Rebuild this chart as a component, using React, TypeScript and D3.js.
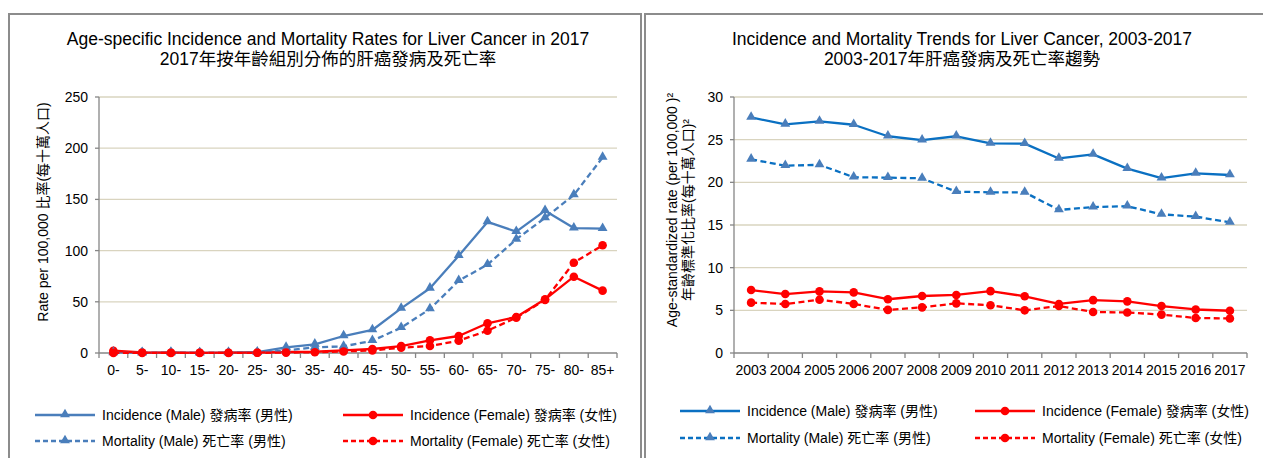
import React from 'react'
import * as d3 from 'd3'

const FONT = "'Liberation Sans', Arial, 'Noto Sans CJK TC', sans-serif"

// left chart: age-specific rates, 2017
const ageGroups = ['0-', '5-', '10-', '15-', '20-', '25-', '30-', '35-', '40-', '45-', '50-', '55-', '60-', '65-', '70-', '75-', '80-', '85+']
const ageIncMale = [0.9, 0.2, 0.6, 0.1, 0.3, 0.8, 5.5, 8.5, 16.6, 22.5, 43.6, 63.2, 95, 128, 118.5, 139, 122, 121.5]
const ageIncFemale = [2.2, 0.5, 0.3, 0.2, 0.3, 0.4, 1, 1.2, 2.6, 3.9, 6.8, 12.4, 16.6, 29, 35.2, 52.4, 74.5, 60.9]
const ageMortMale = [0.2, 0.1, 0.1, 0.1, 0.2, 0.4, 2.5, 5.5, 6.5, 12, 24.7, 43, 70.6, 86.3, 111, 132, 154.3, 191]
const ageMortFemale = [0.1, 0.1, 0.1, 0.1, 0.1, 0.2, 0.4, 0.8, 1.5, 2.5, 5.2, 6.8, 12, 21.8, 34.5, 51.8, 88.2, 105.2]
const ageTicks = [0, 50, 100, 150, 200, 250]

// right chart: age-standardised trends
const years = ['2003', '2004', '2005', '2006', '2007', '2008', '2009', '2010', '2011', '2012', '2013', '2014', '2015', '2016', '2017']
const trendIncMale = [27.6, 26.8, 27.15, 26.75, 25.4, 24.95, 25.4, 24.57, 24.53, 22.8, 23.28, 21.6, 20.5, 21.05, 20.86]
const trendIncFemale = [7.38, 6.91, 7.22, 7.1, 6.3, 6.68, 6.8, 7.25, 6.65, 5.75, 6.2, 6.05, 5.5, 5.1, 4.95]
const trendMortMale = [22.7, 21.95, 22.05, 20.6, 20.55, 20.47, 18.9, 18.83, 18.83, 16.76, 17.1, 17.2, 16.25, 15.98, 15.31]
const trendMortFemale = [5.9, 5.74, 6.25, 5.75, 5.05, 5.35, 5.82, 5.6, 5.0, 5.5, 4.8, 4.75, 4.5, 4.1, 4.05]
const trendTicks = [0, 5, 10, 15, 20, 25, 30]

const legendLabels = [
  'Incidence (Male) 發病率 (男性)',
  'Incidence (Female) 發病率 (女性)',
  'Mortality (Male) 死亡率 (男性)',
  'Mortality (Female) 死亡率 (女性)',
]

type Series = { values: number[]; color: string; markerColor: string; dashed: boolean; marker: 'tri' | 'dot' }

function Marker({ kind, x, y, color }: { kind: string; x: number; y: number; color: string }) {
  if (kind === 'dot') return <circle cx={x} cy={y} r={4.3} fill={color} />
  const p = d3.symbol().type(d3.symbolTriangle).size(42)()
  return <path d={p!} transform={`translate(${x},${y - 0.5})`} fill={color} />
}

function Panel(props: {
  frameX: number
  frameW: number
  titles: string[]
  titleX: number
  left: number
  right: number
  top: number
  bottom: number
  cats: string[]
  ticks: number[]
  yMax: number
  series: Series[]
  yLabels: { x: number; text: string }[]
  yLabelY: number
  legendCols: number[]
  legendRows: number[]
}) {
  const { left, right, top, bottom, cats, series } = props
  const x = d3.scaleBand().domain(cats).range([left, right])
  const y = d3.scaleLinear().domain([0, props.yMax]).range([bottom, top])
  const cx = (i: number) => x(cats[i])! + x.bandwidth() / 2
  const line = d3.line<number>().x((_, i) => cx(i)).y(d => y(d))
  const bounds = cats.map(c => x(c)!).concat([right])

  return (
    <g>
      <rect x={props.frameX} y={14} width={props.frameW} height={480} fill="#fff" stroke="#8c8c8c" strokeWidth={2} />
      {props.titles.map((t, i) => (
        <text key={t} x={props.titleX} y={39 + i * 20} textAnchor="middle" dominantBaseline="central" fontSize={17.5} fill="#000">{t}</text>
      ))}
      {props.ticks.map(t => (
        <g key={t}>
          {t > 0 && <line x1={left} x2={right} y1={y(t)} y2={y(t)} stroke="#d9d4bf" strokeWidth={1.3} />}
          <line x1={left - 4} x2={left} y1={y(t)} y2={y(t)} stroke="#868686" strokeWidth={1.3} />
          <text x={left - 11} y={y(t)} textAnchor="end" dominantBaseline="central" fontSize={14} fill="#000">{t}</text>
        </g>
      ))}
      <line x1={left} x2={left} y1={top} y2={bottom} stroke="#868686" strokeWidth={1.3} />
      <line x1={left} x2={right} y1={bottom} y2={bottom} stroke="#868686" strokeWidth={1.3} />
      {bounds.map((b, i) => (
        <line key={i} x1={b} x2={b} y1={bottom} y2={bottom + 5} stroke="#868686" strokeWidth={1.3} />
      ))}
      {cats.map((c, i) => (
        <text key={c} x={cx(i)} y={bottom + 17} textAnchor="middle" dominantBaseline="central" fontSize={14} fill="#000">{c}</text>
      ))}
      {props.yLabels.map(l => (
        <text key={l.text} transform={`translate(${l.x},${props.yLabelY}) rotate(-90)`} textAnchor="middle" dominantBaseline="central" fontSize={14} fill="#000">{l.text}</text>
      ))}
      {series.map((s, k) => (
        <g key={k}>
          <path d={line(s.values)!} fill="none" stroke={s.color} strokeWidth={2.3} strokeDasharray={s.dashed ? '6,3.5' : undefined} strokeLinejoin="round" />
          {s.values.map((v, i) => (
            <Marker key={i} kind={s.marker} x={cx(i)} y={y(v)} color={s.markerColor} />
          ))}
        </g>
      ))}
      {series.map((s, k) => {
        const lx = props.legendCols[k % 2]
        const ly = props.legendRows[Math.floor(k / 2)]
        return (
          <g key={'lg' + k}>
            <line x1={lx} x2={lx + 60} y1={ly} y2={ly} stroke={s.color} strokeWidth={2.3} strokeDasharray={s.dashed ? '5,3' : undefined} />
            <Marker kind={s.marker} x={lx + 30} y={ly} color={s.markerColor} />
            <text x={lx + 67} y={ly} dominantBaseline="central" fontSize={14} fill="#000">{legendLabels[k]}</text>
          </g>
        )
      })}
    </g>
  )
}

export default function App() {
  const leftSeries: Series[] = [
    { values: ageIncMale, color: '#4a7ebb', markerColor: '#4a7ebb', dashed: false, marker: 'tri' },
    { values: ageIncFemale, color: '#ff0000', markerColor: '#ff0000', dashed: false, marker: 'dot' },
    { values: ageMortMale, color: '#4a7ebb', markerColor: '#4a7ebb', dashed: true, marker: 'tri' },
    { values: ageMortFemale, color: '#ff0000', markerColor: '#ff0000', dashed: true, marker: 'dot' },
  ]
  const rightSeries: Series[] = [
    { values: trendIncMale, color: '#0a70c2', markerColor: '#4a7ebb', dashed: false, marker: 'tri' },
    { values: trendIncFemale, color: '#ff0000', markerColor: '#ff0000', dashed: false, marker: 'dot' },
    { values: trendMortMale, color: '#0a70c2', markerColor: '#4a7ebb', dashed: true, marker: 'tri' },
    { values: trendMortFemale, color: '#ff0000', markerColor: '#ff0000', dashed: true, marker: 'dot' },
  ]
  return (
    <svg width={1263} height={458} style={{ position: 'absolute', left: 0, top: 0, fontFamily: FONT }}>
      <rect width={1263} height={458} fill="#fff" />
      <Panel
        frameX={9}
        frameW={632}
        titles={['Age-specific Incidence and Mortality Rates for Liver Cancer in 2017', '2017年按年齡組別分佈的肝癌發病及死亡率']}
        titleX={328}
        left={99}
        right={617}
        top={97}
        bottom={353}
        cats={ageGroups}
        ticks={ageTicks}
        yMax={250}
        series={leftSeries}
        yLabels={[{ x: 43, text: 'Rate per 100,000 比率(每十萬人口)' }]}
        yLabelY={212}
        legendCols={[35, 343]}
        legendRows={[415, 441]}
      />
      <Panel
        frameX={645}
        frameW={640}
        titles={['Incidence and Mortality Trends for Liver Cancer, 2003-2017', '2003-2017年肝癌發病及死亡率趨勢']}
        titleX={962}
        left={734}
        right={1247}
        top={97}
        bottom={353}
        cats={years}
        ticks={trendTicks}
        yMax={30}
        series={rightSeries}
        yLabels={[
          { x: 672, text: 'Age-standardized rate (per 100,000 )²' },
          { x: 688, text: '年齡標準化比率(每十萬人口)²' },
        ]}
        yLabelY={210}
        legendCols={[680, 975]}
        legendRows={[411, 438]}
      />
    </svg>
  )
}
